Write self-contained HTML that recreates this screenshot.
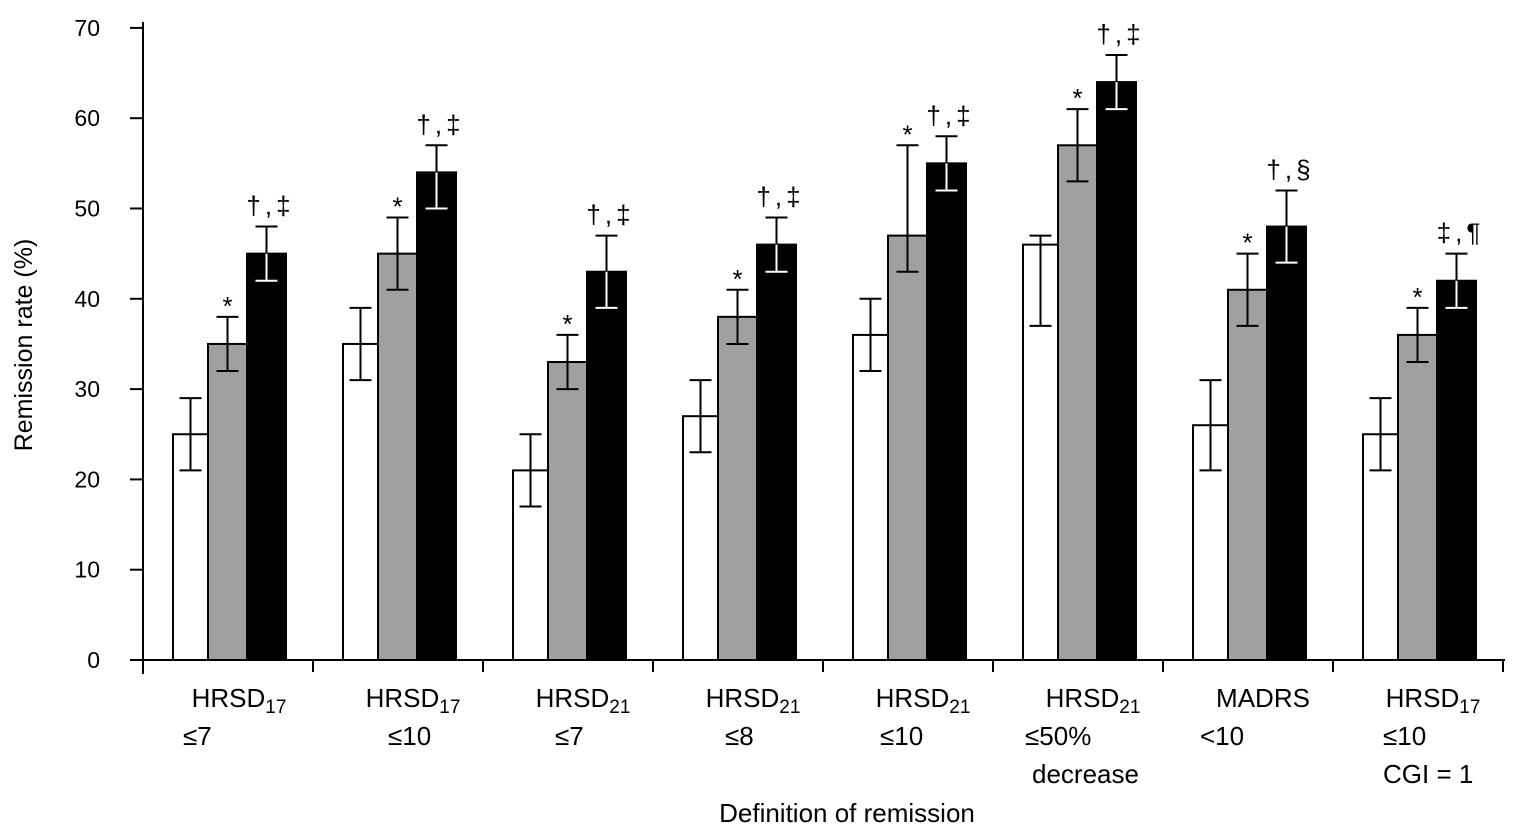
<!DOCTYPE html>
<html><head><meta charset="utf-8"><style>
body{margin:0;background:#fff;}
svg{display:block;font-family:"Liberation Sans",sans-serif;}
</style></head><body>
<svg id="c" width="1514" height="827"></svg>
<script>
const categories=[["HRSD","17","≤7"],["HRSD","17","≤10"],["HRSD","21","≤7"],["HRSD","21","≤8"],["HRSD","21","≤10"],["HRSD","21","≤50%","decrease"],["MADRS","","<10"],["HRSD","17","≤10","CGI = 1"]];
const whiteVals=[25,35,21,27,36,46,26,25];
const whiteLo=[21,31,17,23,32,37,21,21];
const whiteHi=[29,39,25,31,40,47,31,29];
const grayVals=[35,45,33,38,47,57,41,36];
const grayLo=[32,41,30,35,43,53,37,33];
const grayHi=[38,49,36,41,57,61,45,39];
const blackVals=[45,54,43,46,55,64,48,42];
const blackLo=[42,50,39,43,52,61,44,39];
const blackHi=[48,57,47,49,58,67,52,45];
const grayMarks=["*","*","*","*","*","*","*","*"];
const blackMarks=["†,‡","†,‡","†,‡","†,‡","†,‡","†,‡","†,§","‡,¶"];
const yTicks=[0,10,20,30,40,50,60,70];

const NS="http://www.w3.org/2000/svg";
const svg=document.getElementById('c');
const y0=660,ppu=9.03,ax=143,gw=170,g0=173,bw=[35,39,39],bx=[0,35,74];
const lineOff=[40,75,72,72,57,32,37,50];
const Y=v=>y0-v*ppu;
function el(t,a,p){const e=document.createElementNS(NS,t);for(const k in a)e.setAttribute(k,a[k]);(p||svg).appendChild(e);return e;}
let e=el('line',{x1:ax,y1:Y(70)-6,x2:ax,y2:y0+14,stroke:'#000','stroke-width':2});

yTicks.forEach(t=>{
  el('line',{x1:130,x2:ax,y1:Y(t),y2:Y(t),stroke:'#000','stroke-width':2});
  let tx=el('text',{x:100,y:Y(t)+8,'text-anchor':'end','font-size':23});tx.textContent=t;
  
});
e=el('line',{x1:ax,y1:y0,x2:1505,y2:y0,stroke:'#000','stroke-width':2});

for(let i=0;i<=8;i++)el('line',{x1:ax+i*gw,x2:ax+i*gw,y1:y0,y2:y0+12,stroke:'#000','stroke-width':2});
const series=[[whiteVals,whiteLo,whiteHi,'#fff','#000'],[grayVals,grayLo,grayHi,'#a0a0a0','#000'],[blackVals,blackLo,blackHi,'#000','#fff']];
categories.forEach((c,i)=>{
  let x0=g0+i*gw;
  series.forEach((s,j)=>{
    const v=s[0][i];const x=x0+bx[j];
    let r=el('rect',{x:x,y:Y(v),width:bw[j],height:y0-Y(v),fill:s[3],stroke:'#000','stroke-width':2});
    
    const cx=x+bw[j]/2;
    const lo=Y(s[1][i]),hi=Y(s[2][i]),top=Y(v);
    const inC=s[4];
    el('line',{x1:cx,x2:cx,y1:hi,y2:Math.min(top,lo),stroke:'#000','stroke-width':2});
    if(lo>top)el('line',{x1:cx,x2:cx,y1:Math.max(top,hi),y2:lo,stroke:inC,'stroke-width':2});
    el('line',{x1:cx-11,x2:cx+11,y1:hi,y2:hi,stroke:hi<top?'#000':inC,'stroke-width':2});
    el('line',{x1:cx-11,x2:cx+11,y1:lo,y2:lo,stroke:lo<top?'#000':inC,'stroke-width':2});
    if(j===1){let t=el('text',{x:cx,y:hi-2,'text-anchor':'middle','font-size':26});t.textContent=grayMarks[i];}
    if(j===2){let t=el('text',{x:cx+4,y:hi-12,'text-anchor':'middle','font-size':26,'letter-spacing':4});t.textContent=blackMarks[i];}
  });
  const cx1=ax+i*gw+(i===0?96:100);
  let t=el('text',{x:cx1,y:707,'text-anchor':'middle','font-size':26});
  
  t.appendChild(document.createTextNode(c[0]));
  if(c[1]){let s=el('tspan',{'font-size':19,dy:6},t);s.textContent=c[1];}
  for(let k=2;k<c.length;k++){
    let s=el('text',{x:ax+i*gw+lineOff[i]+(k===3&&i===5?7:0),y:707+38*(k-1),'font-size':26});
    s.textContent=c[k];
    
  }
});
let xt=el('text',{x:847,y:822,'text-anchor':'middle','font-size':26});xt.textContent='Definition of remission';

let yt=el('text',{x:0,y:0,'text-anchor':'middle','font-size':25,transform:'translate(32,345) rotate(-90)'});yt.textContent='Remission rate (%)';

</script>
</body></html>
